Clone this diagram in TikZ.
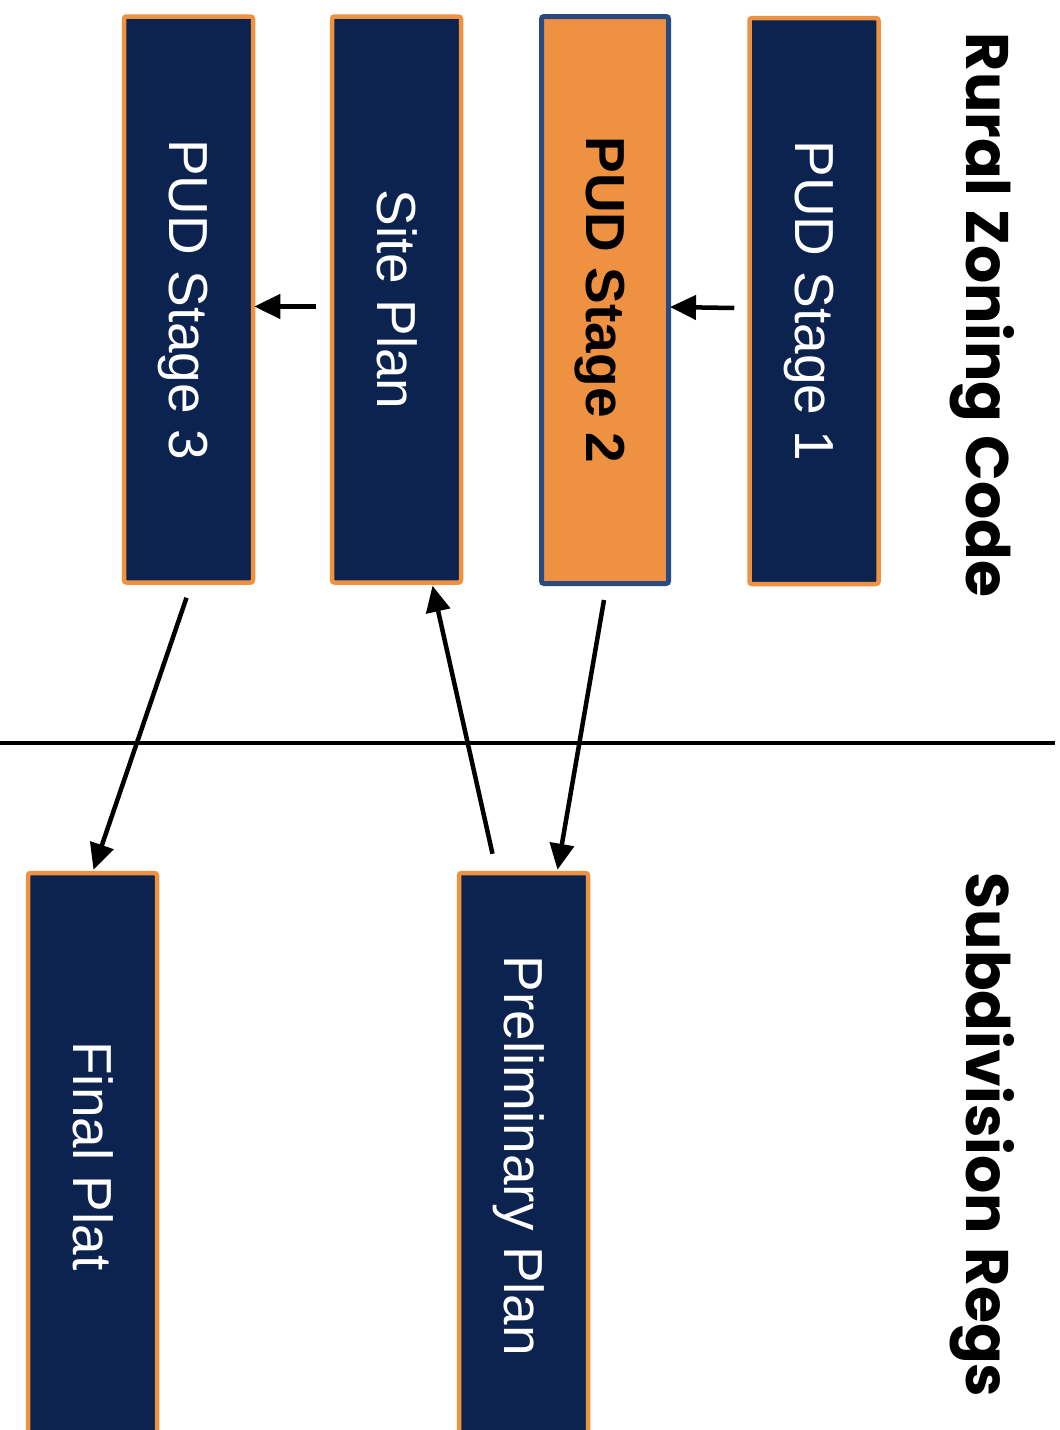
\documentclass[tikz,border=0pt]{standalone}
\usepackage{fontspec}
\setmainfont{Liberation Sans}
\newfontfamily\titlefont{Poppins}
\usetikzlibrary{arrows.meta,calc}
\definecolor{navy}{HTML}{0C2350}
\definecolor{orangeb}{HTML}{EE9241}
\definecolor{blueb}{HTML}{284A80}
\newcommand{\captext}[2]{\rotatebox{-90}{\raisebox{0pt}[\fontcharht\font`#1][0pt]{#2}}}
\tikzset{
  navybox/.style={draw=orangeb, fill=navy, line width=4.5pt, rounded corners=2.5pt,
    inner sep=0pt, text=white, font=\fontsize{55}{60}\selectfont,
    minimum width=129pt, minimum height=566pt},
  orangebox/.style={draw=blueb, fill=orangeb, line width=5pt, rounded corners=2.5pt,
    inner sep=0pt, text=black, font=\fontsize{55}{60}\selectfont\bfseries,
    minimum width=127pt, minimum height=567pt},
  titletext/.style={inner sep=0pt, text=black, font=\titlefont\bfseries\fontsize{60}{66}\selectfont},
  arr/.style={line width=4.5pt, -{Triangle[length=26pt,width=24pt]}},
  divider/.style={line width=3.5pt}
}
\begin{document}
\begin{tikzpicture}[x=1pt,y=-1pt]
\useasboundingbox (0,0) rectangle (1060,1430);
\fill[white] (0,0) rectangle (1060,1430);
\clip (0,0) rectangle (1060,1430);

% titles
\node[titletext] (t1) at (987.5,315) {\captext{R}{Rural Zoning Code}};
\node[titletext] (t2) at (987.5,1135) {\captext{S}{Subdivision Regs}};

% divider
\coordinate (dl) at (0,743);
\coordinate (dr) at (1055,743);
\draw[divider] (dl) -- (dr);

% boxes
\node[navybox] (s1) at (814,301) {\captext{P}{PUD Stage 1}};
\node[orangebox] (s2) at (605,300) {\captext{P}{PUD Stage 2}};
\node[navybox] (sp) at (396.5,299.5) {\captext{S}{Site Plan}};
\node[navybox] (s3) at (188.5,299.5) {\captext{P}{PUD Stage 3}};
\node[navybox] (pp) at (523.5,1156) {\captext{P}{Preliminary Plan}};
\node[navybox] (fp) at (92.5,1156) {\captext{F}{Final Plat}};

% connectors
\draw[arr] ($(s1.west)+(-13,7)$) -- ($(s2.east)+(-1,7)$);
\draw[arr] ($(sp.west)+(-14,7)$) -- ($(s3.east)+(-1,7)$);
\draw[arr] ($(s2.south)+(-1,14)$) -- ($(pp.north)+(34,-1)$);
\draw[arr] ($(pp.north)+(-31,-17)$) -- ($(sp.south)+(36,1)$);
\draw[arr] ($(s3.south)+(-2,13)$) -- ($(fp.north)+(1,-1)$);
\end{tikzpicture}
\end{document}
